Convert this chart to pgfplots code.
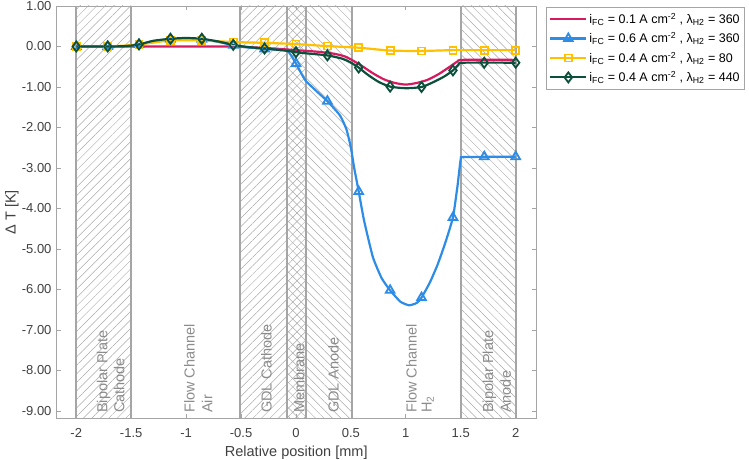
\documentclass[border=0pt]{standalone}
\usepackage{fontspec}
\setmainfont{Liberation Sans}
\usepackage{pgfplots}
\pgfplotsset{compat=1.18}
\usetikzlibrary{patterns.meta}
\definecolor{pinkc}{RGB}{214,26,96}
\definecolor{bluec}{RGB}{45,140,230}
\definecolor{yellowc}{RGB}{255,192,0}
\definecolor{greenc}{RGB}{12,80,60}
\definecolor{zonec}{RGB}{165,165,165}
\definecolor{hatchc}{RGB}{170,170,170}
\definecolor{labc}{RGB}{140,140,140}
\definecolor{tickc}{RGB}{64,64,64}

\pgfplotstableread{
x y
-2.0 0.00
-1.5 0.00
-1.0 0.00
-0.6 0.00
-0.4 -0.02
-0.2 -0.05
0.0 -0.09
0.2 -0.13
0.35 -0.18
0.45 -0.25
0.52 -0.35
0.6 -0.48
0.7 -0.66
0.8 -0.81
0.9 -0.90
1.0 -0.94
1.1 -0.90
1.2 -0.82
1.3 -0.68
1.4 -0.50
1.47 -0.37
1.52 -0.33
2.0 -0.33
}\pinkline

\pgfplotstableread{
x y
-2.0 0.00
-1.714 0.00
-1.55 0.01
-1.429 0.05
-1.3 0.13
-1.143 0.18
-1.0 0.19
-0.857 0.18
-0.7 0.11
-0.571 0.03
-0.45 -0.02
-0.286 -0.06
-0.08 -0.11
0.0 -0.42
0.09 -0.85
0.286 -1.35
0.40 -1.70
0.46 -2.05
0.50 -2.5
0.53 -3.0
0.571 -3.58
0.62 -4.3
0.70 -5.2
0.78 -5.72
0.857 -6.02
0.95 -6.30
1.03 -6.39
1.10 -6.33
1.143 -6.20
1.22 -5.82
1.29 -5.38
1.36 -4.84
1.429 -4.22
1.47 -3.45
1.50 -2.78
1.53 -2.73
2.0 -2.72
}\blueline

\pgfplotstableread{
x y
-2.0 0.00
-1.714 0.00
-1.429 0.05
-1.143 0.18
-0.857 0.18
-0.571 0.03
-0.286 -0.06
0.0 -0.42
0.286 -1.35
0.571 -3.58
0.857 -6.02
1.143 -6.20
1.429 -4.22
1.714 -2.72
2.0 -2.72
}\bluemarks

\pgfplotstableread{
x y
-2.0 0.00
-1.714 0.00
-1.429 0.05
-1.143 0.15
-0.857 0.15
-0.571 0.11
-0.286 0.09
0.0 0.06
0.286 0.01
0.571 -0.03
0.857 -0.10
1.143 -0.11
1.429 -0.09
1.714 -0.09
2.0 -0.09
}\yellowmarks

\pgfplotstableread{
x y
-2.0 0.00
-1.714 0.00
-1.55 0.01
-1.429 0.05
-1.3 0.14
-1.143 0.19
-1.0 0.21
-0.857 0.19
-0.7 0.12
-0.571 0.04
-0.45 -0.01
-0.286 -0.05
-0.1 -0.10
0.0 -0.14
0.1 -0.17
0.286 -0.22
0.42 -0.30
0.5 -0.40
0.571 -0.52
0.65 -0.69
0.75 -0.87
0.857 -0.99
1.0 -1.03
1.143 -1.00
1.25 -0.88
1.35 -0.74
1.429 -0.59
1.48 -0.45
1.52 -0.40
2.0 -0.40
}\greenline

\pgfplotstableread{
x y
-2.0 0.00
-1.714 0.00
-1.429 0.05
-1.143 0.19
-0.857 0.19
-0.571 0.04
-0.286 -0.05
0.0 -0.14
0.286 -0.22
0.571 -0.52
0.857 -0.99
1.143 -1.00
1.429 -0.59
1.714 -0.40
2.0 -0.40
}\greenmarks

\begin{document}
\begin{tikzpicture}
\begin{axis}[
  at={(56.5pt,40.7pt)}, anchor=south west,
  scale only axis, width=479.5pt, height=412.3pt,
  xmin=-2.18, xmax=2.185, ymin=-9.18, ymax=1.0,
  xtick={-2,-1.5,-1,-0.5,0,0.5,1,1.5,2},
  ytick={-9,-8,-7,-6,-5,-4,-3,-2,-1,0,1},
  tick align=inside, tick pos=both,
  major tick length=4pt,
  axis line style={draw=zonec, line width=0.8pt},
  every tick/.style={draw=zonec, line width=0.8pt},
  /pgf/number format/assume math mode=true,
  xticklabel style={font=\fontsize{13}{15}\selectfont, text=tickc, yshift=-7pt, /pgf/number format/.cd, fixed, precision=1},
  yticklabel style={font=\fontsize{13}{15}\selectfont, text=tickc, xshift=-1.5pt, /pgf/number format/.cd, fixed, fixed zerofill, precision=2},
  xlabel={Relative position [mm]},
  ylabel={Δ T [K]},
  label style={font=\fontsize{14.5}{16}\selectfont, text=tickc},
  xlabel style={at={(axis description cs:0.5,-0.083)}, anchor=center},
  ylabel style={at={(axis description cs:-0.093,0.5)}, anchor=center},
  legend style={at={(axis description cs:1.0209,0.9968)}, anchor=north west,
    draw=zonec, fill=white, font=\fontsize{12.5}{14}\selectfont,
    inner xsep=3pt, inner ysep=3.5pt, row sep=3.5pt,
    /tikz/every even column/.append style={column sep=2pt}},
  legend cell align=left,
  legend image code/.code={\draw[mark repeat=2,mark phase=2,#1] plot coordinates {(0pt,0pt) (18pt,0pt) (36pt,0pt)};},
]
% zones
\addplot[forget plot, draw=none, pattern={Lines[angle=45,distance=6pt,line width=0.5pt]}, pattern color=hatchc] coordinates {(-2,-9.18) (-2,1) (-1.5,1) (-1.5,-9.18)};
\addplot[forget plot, draw=none, pattern={Lines[angle=45,distance=6pt,line width=0.5pt]}, pattern color=hatchc] coordinates {(-0.51,-9.18) (-0.51,1) (-0.08,1) (-0.08,-9.18)};
\addplot[forget plot, draw=none, pattern={Lines[angle=45,distance=6pt,line width=0.5pt]}, pattern color=hatchc] coordinates {(-0.08,-9.18) (-0.08,1) (0.09,1) (0.09,-9.18)};
\addplot[forget plot, draw=none, pattern={Lines[angle=-45,distance=6pt,line width=0.5pt]}, pattern color=hatchc] coordinates {(-0.08,-9.18) (-0.08,1) (0.09,1) (0.09,-9.18)};
\addplot[forget plot, draw=none, pattern={Lines[angle=-45,distance=6pt,line width=0.5pt]}, pattern color=hatchc] coordinates {(0.09,-9.18) (0.09,1) (0.51,1) (0.51,-9.18)};
\addplot[forget plot, draw=none, pattern={Lines[angle=-45,distance=6pt,line width=0.5pt]}, pattern color=hatchc] coordinates {(1.5,-9.18) (1.5,1) (2.0,1) (2.0,-9.18)};
% zone borders
\foreach \xb in {-2,-1.5,-0.51,-0.08,0.09,0.51,1.5,2.0}{
  \edef\tmp{\noexpand\addplot[forget plot, zonec, line width=2.2pt] coordinates {(\xb,-9.18) (\xb,1)};}
  \tmp
}
% zone labels
\begin{scope}[every node/.style={rotate=90, anchor=west, inner sep=0pt, text=labc, font=\fontsize{14.5}{16}\selectfont}]
\node at (axis cs:-1.75,-9.05) {Bipolar Plate};
\node at (axis cs:-1.61,-9.05) {Cathode};
\node at (axis cs:-0.97,-9.05) {Flow Channel};
\node at (axis cs:-0.81,-9.05) {Air};
\node at (axis cs:-0.27,-9.05) {GDL Cathode};
\node at (axis cs:0.03,-9.05) {Membrane};
\node at (axis cs:0.34,-9.05) {GDL Anode};
\node at (axis cs:1.05,-9.05) {Flow Channel};
\node at (axis cs:1.20,-9.05) {H\textsubscript{2}};
\node at (axis cs:1.76,-9.05) {Bipolar Plate};
\node at (axis cs:1.91,-9.05) {Anode};
\end{scope}
% data
\addplot[forget plot, pinkc, line width=2.2pt, smooth, tension=0.4] table {\pinkline};
\addplot[forget plot, bluec, line width=2.2pt, smooth, tension=0.3] table {\blueline};
\addplot[forget plot, only marks, mark=triangle, mark size=5pt, mark options={draw=bluec, fill=white, line width=1.8pt}] table {\bluemarks};
\addplot[forget plot, yellowc, line width=2.2pt, smooth, tension=0.4, mark=square, mark size=3.5pt, mark options={fill=white, line width=1.8pt}] table {\yellowmarks};
\addplot[forget plot, greenc, line width=2.2pt, smooth, tension=0.4] table {\greenline};
\addplot[forget plot, only marks, mark=diamond, mark size=5pt, mark options={draw=greenc, fill=white, line width=1.8pt}] table {\greenmarks};
% legend
\addlegendimage{pinkc, line width=2.2pt}
\addlegendentry{i\textsubscript{FC} = 0.1 A cm\textsuperscript{-2} , λ\textsubscript{H2} = 360}
\addlegendimage{bluec, line width=2.2pt, mark=triangle, mark size=5pt, mark options={fill=white, line width=1.8pt}}
\addlegendentry{i\textsubscript{FC} = 0.6 A cm\textsuperscript{-2} , λ\textsubscript{H2} = 360}
\addlegendimage{yellowc, line width=2.2pt, mark=square, mark size=3.5pt, mark options={fill=white, line width=1.8pt}}
\addlegendentry{i\textsubscript{FC} = 0.4 A cm\textsuperscript{-2} , λ\textsubscript{H2} = 80}
\addlegendimage{greenc, line width=2.2pt, mark=diamond, mark size=5pt, mark options={fill=white, line width=1.8pt}}
\addlegendentry{i\textsubscript{FC} = 0.4 A cm\textsuperscript{-2} , λ\textsubscript{H2} = 440}
\end{axis}
\pgfresetboundingbox
\path[use as bounding box] (0,0) rectangle (749pt,459pt);
\end{tikzpicture}
\end{document}
